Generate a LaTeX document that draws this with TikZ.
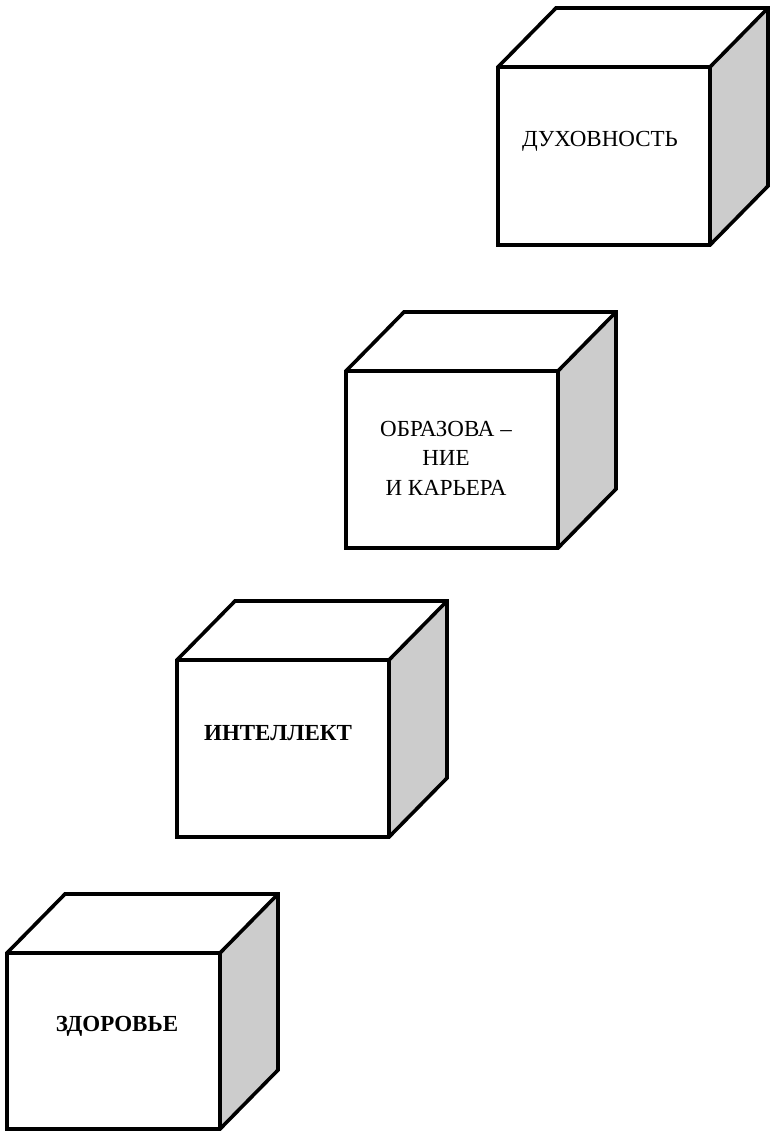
\documentclass[tikz,border=0pt]{standalone}
\usepackage{fontspec}
\setmainfont{Liberation Serif}
\newcommand\cubeshape[4]{%
  % #1,#2 = front top-left ; #3,#4 = front bottom-right
  \fill[sidegray] (#3,#2) -- ++(58,-59) -- (#3+58,#4-59) -- (#3,#4) -- cycle;
  \fill[white] (#1,#2) -- ++(58,-59) -- (#3+58,#2-59) -- (#3,#2) -- cycle;
  \fill[white] (#1,#2) rectangle (#3,#4);
  \draw[cubeedge] (#1,#2) -- ++(58,-59) -- (#3+58,#2-59) -- (#3+58,#4-59) -- (#3,#4) -- (#1,#4) -- cycle;
  \draw[cubeedge] (#1,#2) -- (#3,#2) -- (#3,#4);
  \draw[cubeedge] (#3,#2) -- (#3+58,#2-59);
}
\begin{document}
\begin{tikzpicture}[x=1pt,y=-1pt]
\definecolor{sidegray}{RGB}{204,204,204}
\tikzset{
  cubeedge/.style={line width=3.6pt, line join=miter, draw=black},
  lbl/.style={font=\fontsize{23}{29.5}\selectfont, align=center, inner sep=0pt},
  lblb/.style={lbl, font=\fontsize{23}{29.5}\selectfont\bfseries}
}
\path[use as bounding box] (0,0) rectangle (769,1131);
\cubeshape{498}{67}{710}{245}
\cubeshape{346}{371}{558}{548}
\cubeshape{177}{660}{389}{837}
\cubeshape{7}{953}{220}{1129}
\node[lbl] (dukh) at (600,141) {ДУХОВНОСТЬ};
\node[lbl] (obr) at (446,458) {ОБРАЗОВА –\\НИЕ\\И КАРЬЕРА};
\node[lblb] (intel) at (278,733) {ИНТЕЛЛЕКТ};
\node[lblb] (zdor) at (117,1026) {ЗДОРОВЬЕ};
\end{tikzpicture}
\end{document}
